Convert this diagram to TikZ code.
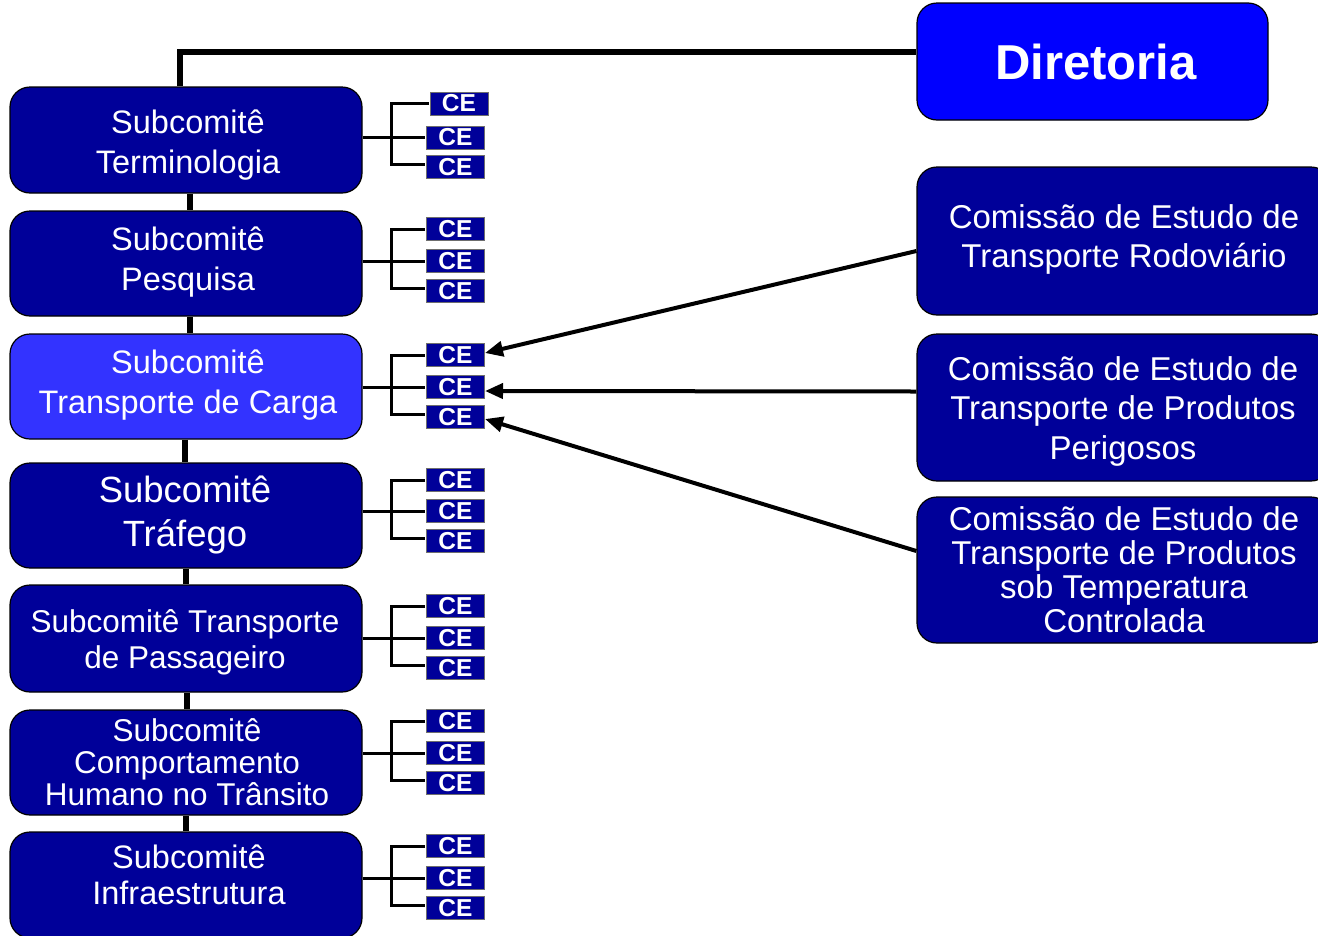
\documentclass[tikz,border=0pt]{standalone}
\usepackage{fontspec}
\setmainfont{Liberation Sans}
\usetikzlibrary{arrows.meta}
\definecolor{navy}{RGB}{0,0,153}
\definecolor{lightblue}{RGB}{51,51,255}
\definecolor{dirblue}{RGB}{0,0,255}
\definecolor{ceborder}{RGB}{110,110,110}
\begin{document}
\begin{tikzpicture}[x=1pt,y=-1pt,
  box/.style={draw=black, line width=1.2pt, rounded corners=20pt, fill=navy, minimum width=352pt, inner sep=0pt},
  lbl/.style={text=white, align=center, inner sep=0pt},
  cebox/.style={draw=ceborder, line width=1pt, fill=navy, text=white, font=\fontsize{24.5}{24.5}\selectfont\bfseries, minimum width=58pt, minimum height=23pt, inner sep=0pt},
  thk/.style={line width=6pt},
  br/.style={line width=3pt},
  arr/.style={line width=4pt, -{Triangle[length=18pt,width=15pt]}}
]
\useasboundingbox (0,0) rectangle (1318,935);

% Diretoria
\node[box, fill=dirblue, minimum width=351pt, minimum height=117pt] (dir) at (1092.5,61.5) {};
\node[lbl, font=\fontsize{49}{49}\selectfont\bfseries] (dirt) at (1096,62) {Diretoria};

% Subcommittee boxes
\node[box, minimum height=106pt] (s1) at (186,140) {};
\node[box, minimum height=105pt] (s2) at (186,263.5) {};
\node[box, fill=lightblue, minimum height=105pt] (s3) at (186,386.5) {};
\node[box, minimum height=105pt] (s4) at (186,515.5) {};
\node[box, minimum height=107pt] (s5) at (186,638.5) {};
\node[box, minimum height=105pt] (s6) at (186,762.5) {};
\node[box, minimum height=106pt] (s7) at (186,885) {};

\node[lbl, font=\fontsize{32.5}{40}\selectfont] (s1t) at (188,145) {Subcomitê\\Terminologia};
\node[lbl, font=\fontsize{32.5}{40}\selectfont] (s2t) at (188,262) {Subcomitê\\Pesquisa};
\node[lbl, font=\fontsize{32.5}{40}\selectfont] (s3t) at (188,385) {Subcomitê\\Transporte de Carga};
\node[lbl, font=\fontsize{36.5}{44}\selectfont] (s4t) at (185,515) {Subcomitê\\Tráfego};
\node[lbl, font=\fontsize{31.5}{36}\selectfont] (s5t) at (185,642) {Subcomitê Transporte\\de Passageiro};
\node[lbl, font=\fontsize{31.5}{32}\selectfont] (s6t) at (187,762) {Subcomitê\\Comportamento\\Humano no Trânsito};
\node[lbl, font=\fontsize{32.5}{36}\selectfont] (s7t) at (189,875) {Subcomitê\\Infraestrutura};

% Right commission boxes
\node[box, minimum width=414pt, minimum height=148pt] (r1) at (1124,241) {};
\node[box, minimum width=414pt, minimum height=147pt] (r2) at (1124,407.5) {};
\node[box, minimum width=414pt, minimum height=146pt] (r3) at (1124,570) {};
\node[lbl, font=\fontsize{33}{39}\selectfont] (r1t) at (1124,239) {Comissão de Estudo de\\Transporte Rodoviário};
\node[lbl, font=\fontsize{33}{39.5}\selectfont] (r2t) at (1123,411) {Comissão de Estudo de\\Transporte de Produtos\\Perigosos};
\node[lbl, font=\fontsize{33}{34}\selectfont] (r3t) at (1124,570) {Comissão de Estudo de\\Transporte de Produtos\\sob Temperatura\\Controlada};

% CE boxes
\node[cebox] (c11) at (459,103.5) {CE};
\node[cebox] (c12) at (455.5,137.5) {CE};
\node[cebox] (c13) at (455.5,167) {CE};
\node[cebox] (c21) at (455.5,229) {CE};
\node[cebox] (c22) at (455.5,261) {CE};
\node[cebox] (c23) at (455.5,291) {CE};
\node[cebox] (c31) at (455.5,355) {CE};
\node[cebox] (c32) at (455.5,387) {CE};
\node[cebox] (c33) at (455.5,417) {CE};
\node[cebox] (c41) at (455.5,480) {CE};
\node[cebox] (c42) at (455.5,511) {CE};
\node[cebox] (c43) at (455.5,541) {CE};
\node[cebox] (c51) at (455.5,606) {CE};
\node[cebox] (c52) at (455.5,638) {CE};
\node[cebox] (c53) at (455.5,668) {CE};
\node[cebox] (c61) at (455.5,721) {CE};
\node[cebox] (c62) at (455.5,753) {CE};
\node[cebox] (c63) at (455.5,783) {CE};
\node[cebox] (c71) at (455.5,846) {CE};
\node[cebox] (c72) at (455.5,878) {CE};
\node[cebox] (c73) at (455.5,908) {CE};

% Brackets
\foreach \g in {1,...,7}{
  \draw[br] ([xshift=-1pt]c\g1.west) -| ([xshift=-35pt]c\g2.west) |- ([xshift=-1pt,yshift=3pt]c\g3.west);
  \draw[br] (s\g.east |- c\g2.west) -- ([xshift=-1pt]c\g2.west);
}

% Vertical chain
\draw[thk] ([xshift=4pt]s1.south) -- ([xshift=4pt]s2.north);
\draw[thk] ([xshift=4pt]s2.south) -- ([xshift=4pt]s3.north);
\draw[thk] ([xshift=-1pt]s3.south) -- ([xshift=-1pt]s4.north);
\draw[thk] (s4.south) -- (s5.north);
\draw[thk] ([xshift=1pt]s5.south) -- ([xshift=1pt]s6.north);
\draw[thk] (s6.south) -- (s7.north);

% Top connection to Diretoria
\draw[thk] ([xshift=-6pt]s1.north) |- ([yshift=9.5pt]dir.west);

% Arrows from commissions
\draw[arr] ([yshift=-10pt]r1.west) -- ([yshift=2pt]c31.east);
\draw[arr] ([yshift=16pt]r2.west) -- ([yshift=-4pt]c32.east);
\draw[arr] ([yshift=19pt]r3.west) -- ([yshift=-2pt]c33.east);
\end{tikzpicture}
\end{document}
